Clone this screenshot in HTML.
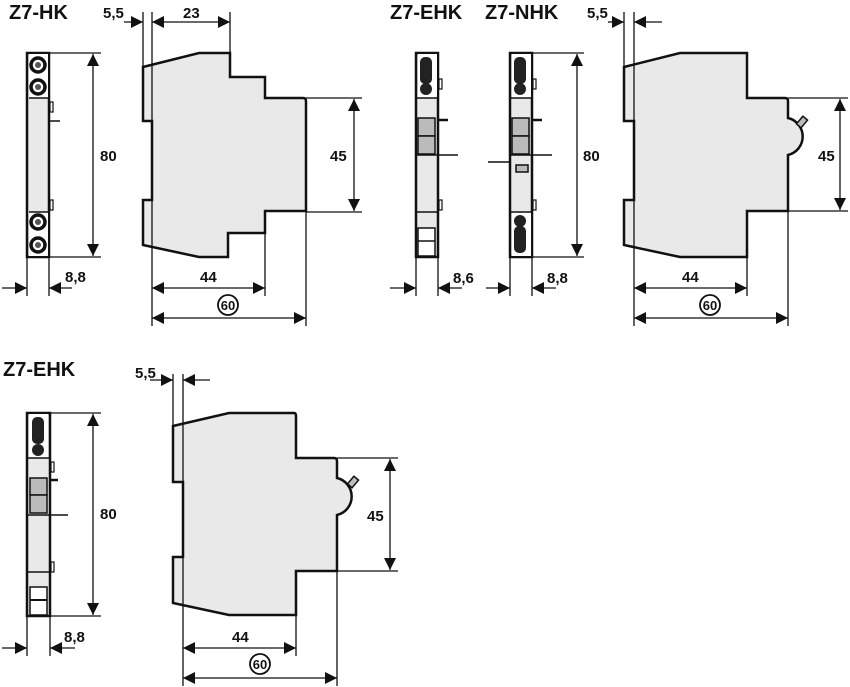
<!DOCTYPE html>
<html><head><meta charset="utf-8"><style>
html,body{margin:0;padding:0;background:#fff;width:850px;height:687px;overflow:hidden}
svg{display:block}
text{font-family:"Liberation Sans",Arial,sans-serif;font-weight:bold;fill:#111}
</style></head><body>
<svg width="850" height="687" viewBox="0 0 850 687" xmlns="http://www.w3.org/2000/svg">
<defs>
<marker id="a" viewBox="0 0 12 12" refX="12" refY="6" markerWidth="12" markerHeight="12" markerUnits="userSpaceOnUse" orient="auto-start-reverse"><path d="M0,0 L12,6 L0,12 z" fill="#111"/></marker>
</defs>
<g stroke="#111" fill="none">

<!-- ========== Z7-HK module ========== -->
<rect x="27" y="53" width="22" height="204" fill="#e9e9e9" stroke-width="2.5"/>
<rect x="29" y="54" width="19" height="44" fill="#fff" stroke="none"/>
<rect x="29" y="212" width="19" height="44" fill="#fff" stroke="none"/>
<line x1="29" y1="98" x2="49" y2="98" stroke-width="1.5"/>
<line x1="29" y1="212" x2="49" y2="212" stroke-width="1.5"/>
<g fill="#fff" stroke-width="3.5"><circle cx="38" cy="65" r="7"/><circle cx="38" cy="87" r="7"/><circle cx="38" cy="222" r="7"/><circle cx="38" cy="245" r="7"/></g>
<g fill="#555" stroke="none"><circle cx="38" cy="65" r="3"/><circle cx="38" cy="87" r="3"/><circle cx="38" cy="222" r="3"/><circle cx="38" cy="245" r="3"/></g>
<rect x="50" y="102" width="3" height="10" stroke-width="1.2"/>
<rect x="50" y="200" width="3" height="10" stroke-width="1.2"/>
<line x1="50" y1="121" x2="60" y2="121" stroke-width="1.5"/>
<g stroke-width="1.3"><line x1="49" y1="53" x2="101" y2="53"/><line x1="49" y1="257" x2="101" y2="257"/>
<line x1="93" y1="54" x2="93" y2="256" marker-start="url(#a)" marker-end="url(#a)"/>
<line x1="27" y1="257" x2="27" y2="296"/><line x1="49" y1="257" x2="49" y2="296"/>
<line x1="2" y1="288" x2="27" y2="288" marker-end="url(#a)"/><line x1="72" y1="288" x2="49" y2="288" marker-end="url(#a)"/></g>

<!-- ========== Side view 1 ========== -->
<path d="M143,67 L199,53 L230,53 L230,77 L265,77 L265,98 L303,98 Q306,98 306,101 L306,211 L265,211 L265,233 L228,233 L228,257 L199,257 L143,245 L143,200 L152,200 L152,121 L143,121 Z" fill="#e9e9e9" stroke-width="2.5"/>
<g stroke-width="1.3">
<line x1="143" y1="12" x2="143" y2="67"/><line x1="152" y1="12" x2="152" y2="326"/><line x1="230" y1="12" x2="230" y2="53"/>
<line x1="124" y1="22" x2="143" y2="22" marker-end="url(#a)"/>
<line x1="152" y1="22" x2="230" y2="22" marker-start="url(#a)" marker-end="url(#a)"/>
<line x1="306" y1="98" x2="362" y2="98"/><line x1="306" y1="212" x2="362" y2="212"/>
<line x1="354" y1="99" x2="354" y2="211" marker-start="url(#a)" marker-end="url(#a)"/>
<line x1="265" y1="212" x2="265" y2="296"/><line x1="306" y1="212" x2="306" y2="326"/>
<line x1="152" y1="288" x2="265" y2="288" marker-start="url(#a)" marker-end="url(#a)"/>
<line x1="152" y1="318" x2="306" y2="318" marker-start="url(#a)" marker-end="url(#a)"/>
<circle cx="228" cy="305" r="10" stroke-width="1.8" fill="#fff"/></g>

<!-- ========== Z7-EHK module (top) ========== -->
<rect x="416" y="53" width="22" height="204" fill="#e9e9e9" stroke-width="2.5"/>
<rect x="418" y="54" width="19" height="44" fill="#fff" stroke="none"/>
<line x1="417" y1="98" x2="438" y2="98" stroke-width="1.5"/>
<rect x="420" y="57" width="12" height="27" rx="5" fill="#222" stroke="none"/><circle cx="426" cy="89" r="6" fill="#222" stroke="none"/>
<rect x="418" y="118" width="17" height="18" fill="#bbb" stroke-width="1.5"/><rect x="418" y="136" width="17" height="18" fill="#bbb" stroke-width="1.5"/>
<line x1="438" y1="120" x2="448" y2="120" stroke-width="2.5"/><line x1="416" y1="155" x2="458" y2="155" stroke-width="1.5"/>
<line x1="417" y1="212" x2="438" y2="212" stroke-width="1.5"/>
<rect x="418" y="228" width="17" height="28" fill="#fff" stroke-width="1.5"/><line x1="418" y1="241" x2="435" y2="241" stroke-width="1.5"/>
<rect x="439" y="79" width="3" height="10" stroke-width="1.2"/><rect x="439" y="200" width="3" height="10" stroke-width="1.2"/>
<g stroke-width="1.3"><line x1="416" y1="257" x2="416" y2="296"/><line x1="438" y1="257" x2="438" y2="296"/>
<line x1="390" y1="288" x2="416" y2="288" marker-end="url(#a)"/><line x1="462" y1="288" x2="438" y2="288" marker-end="url(#a)"/></g>

<!-- ========== Z7-NHK module ========== -->
<rect x="510" y="53" width="22" height="204" fill="#e9e9e9" stroke-width="2.5"/>
<rect x="512" y="54" width="19" height="44" fill="#fff" stroke="none"/>
<rect x="512" y="212" width="19" height="44" fill="#fff" stroke="none"/>
<line x1="511" y1="98" x2="532" y2="98" stroke-width="1.5"/><line x1="511" y1="212" x2="532" y2="212" stroke-width="1.5"/>
<rect x="514" y="57" width="12" height="27" rx="5" fill="#222" stroke="none"/><circle cx="520" cy="89" r="6" fill="#222" stroke="none"/>
<circle cx="520" cy="221" r="6" fill="#222" stroke="none"/><rect x="514" y="226" width="12" height="27" rx="5" fill="#222" stroke="none"/>
<rect x="512" y="118" width="17" height="18" fill="#bbb" stroke-width="1.5"/><rect x="512" y="136" width="17" height="18" fill="#bbb" stroke-width="1.5"/>
<line x1="532" y1="120" x2="542" y2="120" stroke-width="2.5"/><line x1="510" y1="155" x2="552" y2="155" stroke-width="1.5"/>
<line x1="488" y1="162" x2="510" y2="162" stroke-width="1.5"/>
<rect x="516" y="165" width="12" height="7" fill="#bbb" stroke-width="1.5"/>
<rect x="533" y="79" width="3" height="10" stroke-width="1.2"/><rect x="533" y="200" width="3" height="10" stroke-width="1.2"/>
<g stroke-width="1.3"><line x1="532" y1="53" x2="584" y2="53"/><line x1="532" y1="257" x2="584" y2="257"/>
<line x1="577" y1="54" x2="577" y2="256" marker-start="url(#a)" marker-end="url(#a)"/>
<line x1="510" y1="257" x2="510" y2="296"/><line x1="532" y1="257" x2="532" y2="296"/>
<line x1="486" y1="288" x2="510" y2="288" marker-end="url(#a)"/><line x1="556" y1="288" x2="532" y2="288" marker-end="url(#a)"/></g>

<!-- ========== Side view 2 ========== -->
<path d="M624,67 L680,53 L747,53 L747,98 L785,98 Q788,98 788,101 L788,118 A19,19 0 0 1 788,155 L788,211 L747,211 L747,257 L680,257 L624,245 L624,200 L634,200 L634,121 L624,121 Z" fill="#e9e9e9" stroke-width="2.5"/>
<rect x="799" y="117" width="6" height="10" fill="#bbb" stroke-width="1.5" transform="rotate(40 802 122)"/>
<g stroke-width="1.3">
<line x1="624" y1="12" x2="624" y2="67"/><line x1="634" y1="12" x2="634" y2="326"/>
<line x1="608" y1="22" x2="624" y2="22" marker-end="url(#a)"/><line x1="662" y1="22" x2="634" y2="22" marker-end="url(#a)"/>
<line x1="788" y1="98" x2="848" y2="98"/><line x1="788" y1="211" x2="848" y2="211"/>
<line x1="840" y1="99" x2="840" y2="210" marker-start="url(#a)" marker-end="url(#a)"/>
<line x1="747" y1="257" x2="747" y2="296"/><line x1="788" y1="211" x2="788" y2="326"/>
<line x1="634" y1="288" x2="747" y2="288" marker-start="url(#a)" marker-end="url(#a)"/>
<line x1="634" y1="318" x2="788" y2="318" marker-start="url(#a)" marker-end="url(#a)"/>
<circle cx="710" cy="305" r="10" stroke-width="1.8" fill="#fff"/></g>

<!-- ========== Bottom Z7-EHK module ========== -->
<rect x="27" y="413" width="23" height="203" fill="#e9e9e9" stroke-width="2.5"/>
<rect x="29" y="414" width="19" height="44" fill="#fff" stroke="none"/>
<line x1="28" y1="458" x2="50" y2="458" stroke-width="1.5"/>
<rect x="32" y="417" width="12" height="27" rx="5" fill="#222" stroke="none"/><circle cx="38" cy="450" r="6" fill="#222" stroke="none"/>
<rect x="30" y="478" width="17" height="17" fill="#bbb" stroke-width="1.5"/><rect x="30" y="495" width="17" height="18" fill="#bbb" stroke-width="1.5"/>
<line x1="50" y1="480" x2="58" y2="480" stroke-width="2.5"/><line x1="28" y1="515" x2="68" y2="515" stroke-width="1.5"/>
<line x1="28" y1="572" x2="50" y2="572" stroke-width="1.5"/>
<rect x="30" y="587" width="17" height="28" fill="#fff" stroke-width="1.5"/><line x1="30" y1="600" x2="47" y2="600" stroke-width="2"/>
<rect x="51" y="462" width="3" height="10" stroke-width="1.2"/><rect x="51" y="562" width="3" height="10" stroke-width="1.2"/>
<g stroke-width="1.3"><line x1="50" y1="413" x2="101" y2="413"/><line x1="50" y1="616" x2="101" y2="616"/>
<line x1="93" y1="414" x2="93" y2="615" marker-start="url(#a)" marker-end="url(#a)"/>
<line x1="27" y1="616" x2="27" y2="656"/><line x1="50" y1="616" x2="50" y2="656"/>
<line x1="2" y1="648" x2="27" y2="648" marker-end="url(#a)"/><line x1="75" y1="648" x2="50" y2="648" marker-end="url(#a)"/></g>

<!-- ========== Bottom side view ========== -->
<path d="M173,426 L229,413 L294,413 Q296,413 296,416 L296,458 L334,458 Q337,458 337,461 L337,478 A19,19 0 0 1 337,515 L337,571 L296,571 L296,615 L229,615 L173,603 L173,557 L183,557 L183,482 L173,482 Z" fill="#e9e9e9" stroke-width="2.5"/>
<rect x="350" y="477" width="6" height="10" fill="#bbb" stroke-width="1.5" transform="rotate(40 353 482)"/>
<g stroke-width="1.3">
<line x1="173" y1="374" x2="173" y2="426"/><line x1="183" y1="374" x2="183" y2="686"/>
<line x1="150" y1="380" x2="173" y2="380" marker-end="url(#a)"/><line x1="210" y1="380" x2="183" y2="380" marker-end="url(#a)"/>
<line x1="337" y1="458" x2="398" y2="458"/><line x1="337" y1="571" x2="398" y2="571"/>
<line x1="390" y1="459" x2="390" y2="570" marker-start="url(#a)" marker-end="url(#a)"/>
<line x1="296" y1="615" x2="296" y2="656"/><line x1="337" y1="571" x2="337" y2="686"/>
<line x1="183" y1="648" x2="296" y2="648" marker-start="url(#a)" marker-end="url(#a)"/>
<line x1="183" y1="678" x2="337" y2="678" marker-start="url(#a)" marker-end="url(#a)"/>
<circle cx="260" cy="664" r="10" stroke-width="1.8" fill="#fff"/></g>
</g>

<!-- ========== Text ========== -->
<g font-size="20"><text x="9" y="19">Z7-HK</text><text x="390" y="19">Z7-EHK</text><text x="485" y="19">Z7-NHK</text><text x="3" y="376">Z7-EHK</text></g>
<g font-size="15">
<text x="103" y="18">5,5</text><text x="183" y="18">23</text>
<text x="100" y="161">80</text><text x="330" y="161">45</text>
<text x="65" y="282">8,8</text><text x="200" y="282">44</text>
<text x="453" y="283">8,6</text><text x="547" y="283">8,8</text>
<text x="583" y="161">80</text>
<text x="587" y="18">5,5</text><text x="818" y="161">45</text>
<text x="682" y="282">44</text>
<text x="100" y="519">80</text><text x="64" y="642">8,8</text>
<text x="135" y="378">5,5</text><text x="367" y="521">45</text>
<text x="232" y="642">44</text>
</g>
<g font-size="13" text-anchor="middle">
<text x="228" y="310">60</text><text x="710" y="310">60</text><text x="260" y="669">60</text>
</g>
</svg>
</body></html>
